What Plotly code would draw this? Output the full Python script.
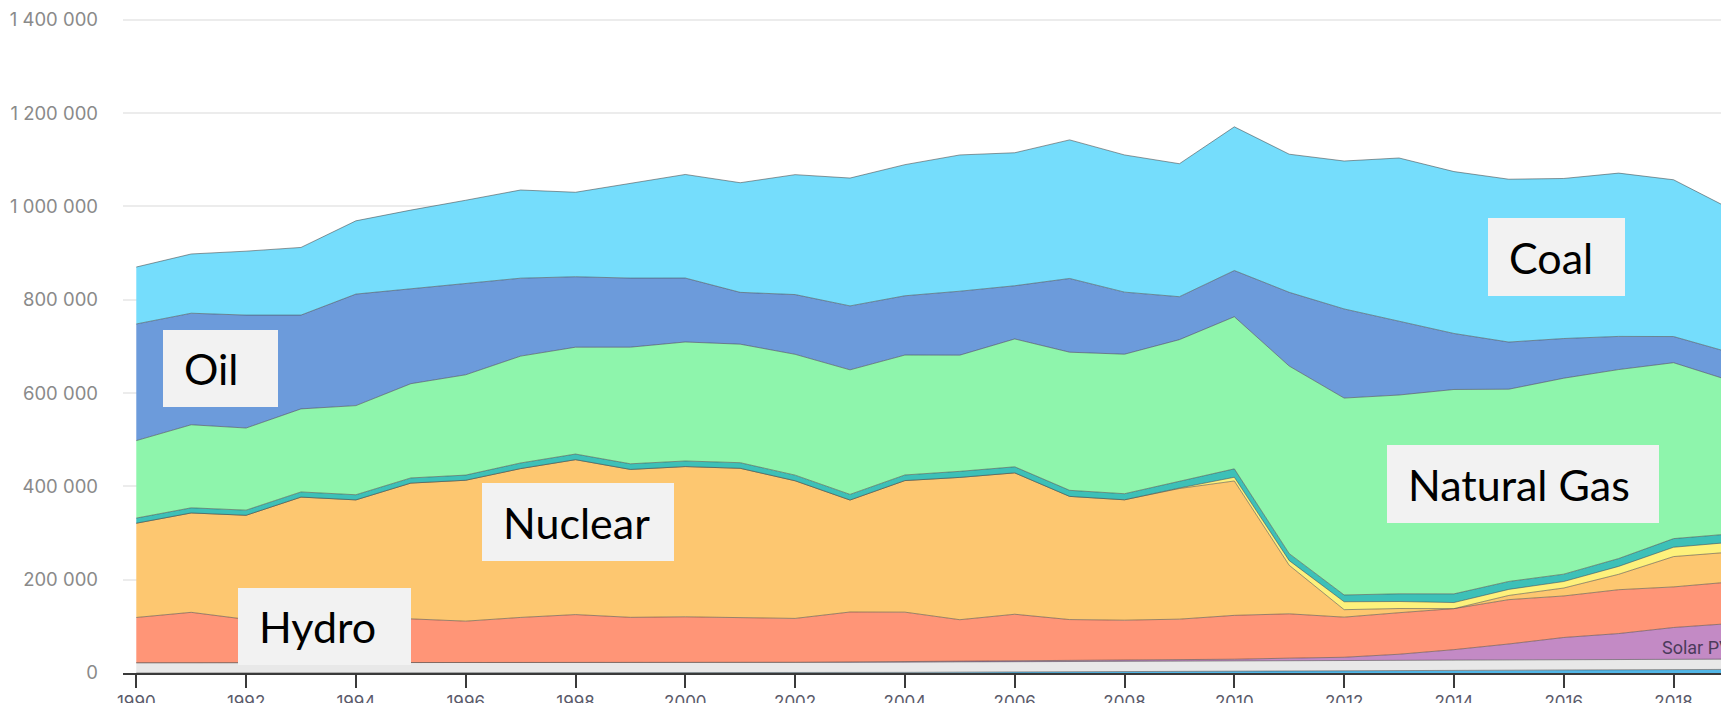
import plotly.graph_objects as go

years = list(range(1990, 2020))

wind = [0, 0, 0, 0, 0, 0, 0, 0, 100, 100, 100, 300, 400, 900, 1300, 1800, 2200, 2600, 2900, 3600,
        4000, 4600, 4800, 5200, 5000, 5200, 6100, 6500, 7500, 7700]
other = [22000, 22000, 22000, 22000, 22000, 22000, 22000, 22000, 22000, 22000,
         22000, 22000, 22000, 22000, 22000, 22000, 22000, 22000, 22000, 22000,
         22000, 22000, 22000, 22000, 22000, 22000, 22000, 22000, 22000, 22000]
solar = [0, 0, 0, 0, 0, 0, 100, 100, 100, 200, 300, 400, 600, 800, 1100, 1400, 1700, 1900, 2300, 2800,
         3500, 5200, 6900, 13000, 23000, 35000, 48000, 56000, 68000, 76000]
hydro = [97000, 108000, 93000, 106000, 80000, 94000, 89000, 97000, 103000, 97000,
         98000, 96000, 94000, 107000, 106000, 89000, 100000, 88000, 86000, 87000,
         94000, 95000, 86000, 89000, 88000, 95000, 89000, 94000, 87000, 89000]
nuclear = [202000, 213000, 223000, 249000, 269000, 291000, 302000, 319000, 332000, 317000,
           322000, 320000, 295000, 240000, 282000, 305000, 303000, 264000, 258000, 280000,
           288000, 104000, 16000, 9000, 0, 9000, 17000, 33000, 65000, 64000]
waste = [0, 0, 0, 0, 0, 0, 0, 0, 0, 0,
         0, 0, 0, 0, 0, 0, 0, 0, 0, 1000,
         8000, 10000, 17000, 15000, 13000, 13000, 14000, 17000, 20000, 21000]
biofuels = [11000, 11000, 11000, 11000, 11000, 11000, 11000, 12000, 12000, 12000,
            12000, 12000, 12000, 12000, 12000, 13000, 13000, 13000, 13000, 14000,
            18000, 15000, 14500, 16500, 18600, 17000, 15700, 16800, 18500, 18000]
gas = [166000, 178000, 176000, 178000, 191000, 202000, 215000, 229000, 229000, 250000,
       255000, 254000, 259000, 267000, 257000, 249000, 274000, 296000, 299000, 304000,
       326000, 402000, 422000, 426000, 438000, 412000, 420000, 405000, 377000, 330000]
oil = [250000, 239000, 242000, 201000, 239000, 203000, 195000, 167000, 151000, 148000,
       137000, 111000, 128000, 137000, 127000, 137000, 114000, 158000, 133000, 92000,
       99000, 158000, 191000, 158000, 120000, 101000, 85000, 71000, 56000, 60000]
coal = [122000, 127000, 137000, 145000, 157000, 169000, 179000, 189000, 181000, 203000,
        222000, 235000, 257000, 274000, 281000, 292000, 285000, 297000, 294000, 285000,
        308000, 296000, 317000, 350000, 347000, 349000, 343000, 350000, 336000, 309000]

y_ticks = [0, 200000, 400000, 600000, 800000, 1000000, 1200000, 1400000]

series = [
    ("Wind", wind, "#52b6e6"),
    ("Other", other, "#e8e8e8"),
    ("Solar PV", solar, "#c38ac5"),
    ("Hydro", hydro, "#ff9577"),
    ("Nuclear", nuclear, "#fdc770"),
    ("Waste", waste, "#fef17c"),
    ("Biofuels", biofuels, "#3dc0b8"),
    ("Natural gas", gas, "#8ef5ac"),
    ("Oil", oil, "#6c9bdb"),
    ("Coal", coal, "#75ddfc"),
]

fig = go.Figure()
for name, vals, col in series:
    fig.add_trace(go.Scatter(
        x=years, y=vals, name=name, mode="lines", stackgroup="one",
        line=dict(width=1, color="rgba(70,70,70,0.55)"),
        fillcolor=col, hoverinfo="skip", showlegend=False,
    ))

# the page body has an 8px margin, so the figure is drawn offset by 8px
OFF = 8
W, H = 1729, 703
ML, MR, MT, MB = 115, 8, 10, 38
PW, PH = W - ML - MR, H - MT - MB


def px2paper(px, py):
    # page pixel -> paper fraction
    return (px - OFF - ML) / PW, (H - MB - (py - OFF)) / PH


labels = [
    ("Oil", 163, 278, 330, 407),
    ("Hydro", 238, 411, 588, 665),
    ("Nuclear", 482, 674, 483, 561),
    ("Coal", 1488, 1625, 218, 296),
    ("Natural Gas", 1387, 1659, 445, 523),
]
shapes = []
annotations = []
for text, x0, x1, y0, y1 in labels:
    a0, b0 = px2paper(x0, y1)
    a1, b1 = px2paper(x1, y0)
    shapes.append(dict(type="rect", xref="paper", yref="paper", x0=a0, x1=a1, y0=b0, y1=b1,
                       fillcolor="#f2f2f2", line=dict(width=0), layer="above"))
    tx, ty = px2paper(x0 + 19, (y0 + y1) / 2)
    annotations.append(dict(text=text, xref="paper", yref="paper", x=tx, y=ty,
                            xanchor="left", yanchor="middle", showarrow=False,
                            font=dict(family="Lato", size=43, color="#000000")))

sx, sy = px2paper(1660, 647)
annotations.append(dict(text="Solar PV", xref="paper", yref="paper", x=sx, y=sy,
                        xanchor="left", yanchor="middle", showarrow=False,
                        font=dict(family="Roboto", size=18, color="#4b3b5b")))

fig.update_layout(
    width=W, height=H,
    margin=dict(l=ML, r=MR, t=MT, b=MB, pad=0),
    paper_bgcolor="white", plot_bgcolor="white",
    separators=". ",
    shapes=shapes, annotations=annotations,
    showlegend=False,
    xaxis=dict(range=[1989.758, 2019.01], tickmode="linear", tick0=1990, dtick=2,
               ticks="outside", ticklen=13, tickwidth=1.5, tickcolor="#3a3a3a",
               showline=True, linecolor="#3a3a3a", linewidth=1.5, showgrid=False,
               zeroline=False, automargin=False,
               tickfont=dict(family="Inter", size=17, color="#5a5a6a")),
    yaxis=dict(range=[0, 1403700], tickvals=y_ticks, tickformat=",",
               showgrid=True, gridcolor="#ececec", gridwidth=1.5, zeroline=False,
               showline=False, ticks="", ticklabelstandoff=24, automargin=False,
               tickfont=dict(family="Inter", size=18.5, color="#8a8a8a")),
)

fig.write_html("out.html")
